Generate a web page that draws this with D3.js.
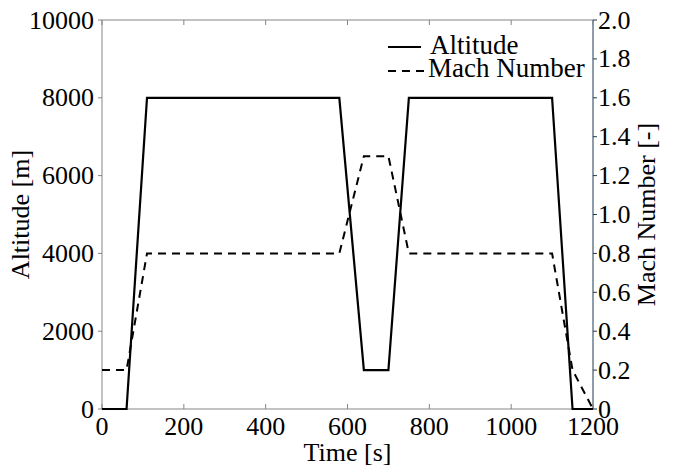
<!DOCTYPE html>
<html lang="en">
<head>
<meta charset="UTF-8">
<title>Altitude and Mach Number</title>
<style>
    body { margin: 0; background: #fff; }
    svg { display: block; }
</style>
</head>
<body>
<svg width="676" height="470" font-family="'Liberation Serif', Tinos, 'DejaVu Serif', 'Times New Roman', serif"></svg>
<script src="https://d3js.org/d3.v7.min.js"></script>
<script>
    // mission profile
    const time = [0, 60, 110, 580, 640, 700, 750, 1100, 1150, 1200];
    const altitude = [0, 0, 8000, 8000, 1000, 1000, 8000, 8000, 0, 0];
    const mach = [0.2, 0.2, 0.8, 0.8, 1.3, 1.3, 0.8, 0.8, 0.2, 0];

    const xTicks = [0, 200, 400, 600, 800, 1000, 1200];
    const altTicks = [0, 2000, 4000, 6000, 8000, 10000];
    const machTicks = [0, 0.2, 0.4, 0.6, 0.8, 1.0, 1.2, 1.4, 1.6, 1.8, 2.0];

    const width = 676, height = 470;
    const margin = { top: 20, right: 83, bottom: 61, left: 102 };
    const fs = 26;
    const font = "'Liberation Serif', Tinos, 'DejaVu Serif', 'Times New Roman', serif";
    const spine = "#858585";
    const spineR = "#1d3a52";

    const svg = d3.select("svg");

    const x = d3.scaleLinear().domain([0, 1200]).range([margin.left, width - margin.right]);
    const yAlt = d3.scaleLinear().domain([0, 10000]).range([height - margin.bottom, margin.top]);
    const yMach = d3.scaleLinear().domain([0, 2]).range([height - margin.bottom, margin.top]);

    const x0 = margin.left, x1 = width - margin.right;
    const y0 = height - margin.bottom, y1 = margin.top;

    function label(g, px, py, str, anchor, size) {
        return g.append("text").attr("x", px).attr("y", py)
            .attr("text-anchor", anchor || "start")
            .attr("font-family", font).attr("font-size", size || fs)
            .attr("fill", "#000").text(str);
    }

    // spines
    svg.append("line").attr("x1", x0).attr("x2", x1).attr("y1", y0).attr("y2", y0).attr("stroke", spine);
    svg.append("line").attr("x1", x0).attr("x2", x1).attr("y1", y1).attr("y2", y1).attr("stroke", spine);
    svg.append("line").attr("x1", x0).attr("x2", x0).attr("y1", y0).attr("y2", y1).attr("stroke", spine);
    svg.append("line").attr("x1", x1).attr("x2", x1).attr("y1", y0).attr("y2", y1).attr("stroke", spineR);

    // x ticks (inside, bottom and top)
    const gx = svg.append("g");
    xTicks.forEach(t => {
        gx.append("line").attr("x1", x(t)).attr("x2", x(t)).attr("y1", y0).attr("y2", y0 - 5).attr("stroke", spine);
        gx.append("line").attr("x1", x(t)).attr("x2", x(t)).attr("y1", y1).attr("y2", y1 + 5).attr("stroke", spine);
        label(gx, x(t), 435, t, "middle");
    });

    // left axis
    const gl = svg.append("g");
    altTicks.forEach(v => {
        gl.append("line").attr("x1", x0).attr("x2", x0 - 4).attr("y1", yAlt(v)).attr("y2", yAlt(v)).attr("stroke", spine);
        label(gl, x0 - 8, yAlt(v) + 8.5, v, "end");
    });

    // right axis
    const gr = svg.append("g");
    machTicks.forEach(v => {
        gr.append("line").attr("x1", x1).attr("x2", x1 + 4).attr("y1", yMach(v)).attr("y2", yMach(v)).attr("stroke", spineR);
        label(gr, x1 + 5, yMach(v) + 8.5, v === 0 ? "0" : d3.format(".1f")(v));
    });

    // axis titles
    label(svg, (x0 + x1) / 2, 461, "Time [s]", "middle");
    label(svg, 0, 0, "Altitude [m]", "middle")
        .attr("transform", `translate(29,${(y0 + y1) / 2}) rotate(-90)`);
    label(svg, 0, 0, "Mach Number [-]", "middle")
        .attr("transform", `translate(655,${(y0 + y1) / 2}) rotate(-90)`);

    // lines
    const altLine = d3.line().x((d, i) => x(time[i])).y(d => yAlt(d));
    const machLine = d3.line().x((d, i) => x(time[i])).y(d => yMach(d));

    svg.append("path").datum(mach).attr("d", machLine)
        .attr("fill", "none").attr("stroke", "#000").attr("stroke-width", 2)
        .attr("stroke-dasharray", "8,6");
    svg.append("path").datum(altitude).attr("d", altLine)
        .attr("fill", "none").attr("stroke", "#000").attr("stroke-width", 2.2);

    // legend
    const lg = svg.append("g");
    lg.append("line").attr("x1", 388).attr("x2", 421).attr("y1", 47).attr("y2", 47)
        .attr("stroke", "#000").attr("stroke-width", 2.2);
    label(lg, 430, 54, "Altitude", "start", 27);
    lg.append("line").attr("x1", 388).attr("x2", 424).attr("y1", 71).attr("y2", 71)
        .attr("stroke", "#000").attr("stroke-width", 2).attr("stroke-dasharray", "8,6");
    label(lg, 428, 77, "Mach Number", "start", 27);
</script>
</body>
</html>
